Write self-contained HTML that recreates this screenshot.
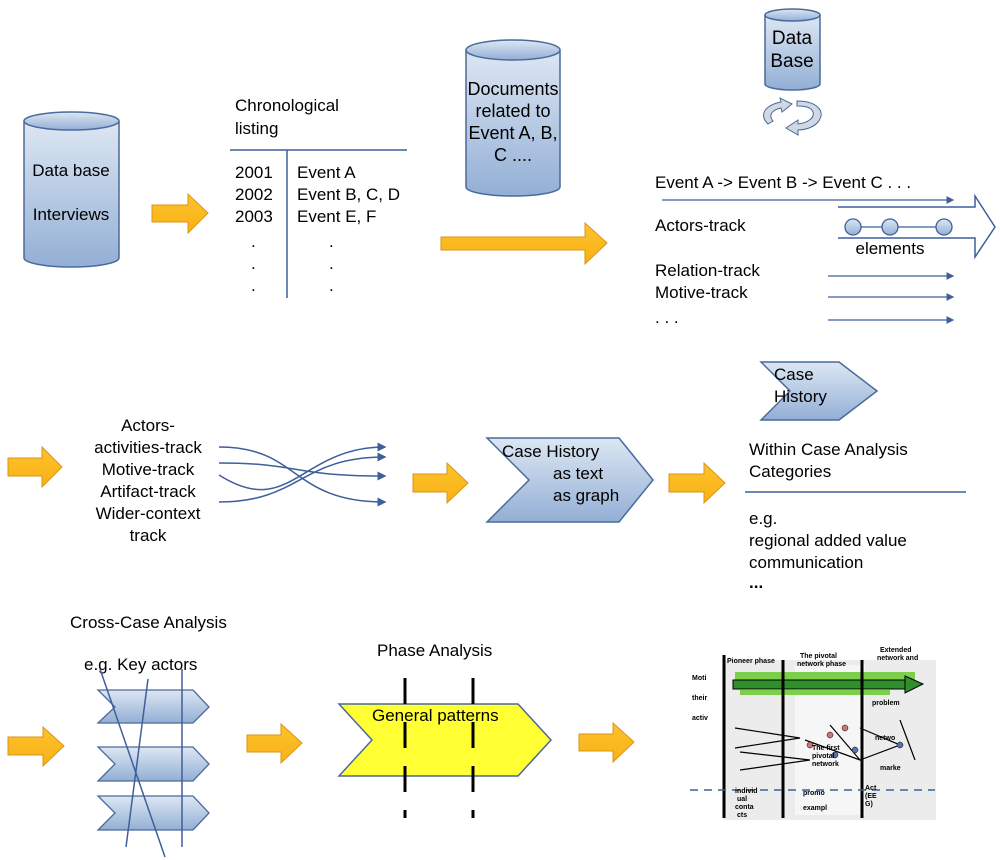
<!DOCTYPE html>
<html><head><meta charset="utf-8"><style>
body{margin:0;background:#fff}
svg{display:block}
text{font-family:"Liberation Sans",sans-serif;font-size:17px;fill:#000}
.s text{font-size:7px;font-weight:bold}
</style></head><body>
<svg width="1000" height="860" viewBox="0 0 1000 860">
<defs>
<linearGradient id="cy" x1="0" y1="0" x2="0" y2="1"><stop offset="0" stop-color="#dde7f3"/><stop offset="1" stop-color="#93afd5"/></linearGradient>
<linearGradient id="or" x1="0" y1="0" x2="0" y2="1"><stop offset="0" stop-color="#fdc22c"/><stop offset="1" stop-color="#f9b116"/></linearGradient>
<marker id="ah" markerWidth="6" markerHeight="6" refX="5" refY="3" orient="auto"><path d="M0,0 L6,3 L0,6 z" fill="#3f5f9b"/></marker>
</defs>
<g fill="url(#or)" stroke="#d9951a" stroke-width="1">
<path d="M152,205 H188 V194 L208,213 L188,233 V222 H152 Z"/>
<path d="M441,237 H585 V223 L607,243 L585,264 V250 H441 Z"/>
<path d="M8,458 H42 V447 L62,467 L42,487 V476 H8 Z"/>
<path d="M413,474 H447 V463 L468,483 L447,503 V492 H413 Z"/>
<path d="M669,474 H704 V463 L725,483 L704,503 V492 H669 Z"/>
<path d="M8,737 H43 V727 L64,746 L43,766 V755 H8 Z"/>
<path d="M247,735 H281 V724 L302,743 L281,763 V752 H247 Z"/>
<path d="M579,734 H613 V723 L634,742 L613,762 V751 H579 Z"/>
</g>
<g stroke="#4a6a9a" stroke-width="1.5" fill="url(#cy)">
<path d="M24,121 V258 A47.5,9 0 0 0 119,258 V121"/>
<ellipse cx="71.5" cy="121" rx="47.5" ry="9"/>
<path d="M466,50 V187 A47,9 0 0 0 560,187 V50"/>
<ellipse cx="513" cy="50" rx="47" ry="10"/>
<path d="M765,15 V84 A27.5,6 0 0 0 820,84 V15"/>
<ellipse cx="792.5" cy="15" rx="27.5" ry="6"/>
</g>
<text x="71" y="176" text-anchor="middle">Data base</text>
<text x="71" y="220" text-anchor="middle">Interviews</text>
<text x="513" y="95" text-anchor="middle" style="font-size:18px">Documents</text>
<text x="513" y="117" text-anchor="middle" style="font-size:18px">related to</text>
<text x="513" y="139" text-anchor="middle" style="font-size:18px">Event A, B,</text>
<text x="513" y="161" text-anchor="middle" style="font-size:18px">C ....</text>
<text x="792" y="44" text-anchor="middle" style="font-size:19px">Data</text>
<text x="792" y="67" text-anchor="middle" style="font-size:19px">Base</text>
<g fill="#d0d8e2" stroke="#4a6a9a" stroke-width="1">
<path d="M768,124 C758,114 766,105 781,102 L780,98 L792,104 L782,112 L781,108 C772,110 768,115 773,121 Z"/>
<path d="M797,101 C816,101 827,111 818,122 C813,128 804,130 798,130 L798,135 L786,128 L798,120 L798,124 C807,123 815,118 813,112 C811,107 805,106 797,106 Z"/>
</g>
<text x="235" y="111">Chronological</text>
<text x="235" y="134">listing</text>
<line x1="230" y1="150" x2="407" y2="150" stroke="#3f5f9b" stroke-width="1.5"/>
<line x1="287" y1="150" x2="287" y2="298" stroke="#3f5f9b" stroke-width="1.5"/>
<text x="235" y="178">2001</text><text x="297" y="178">Event A</text>
<text x="235" y="200">2002</text><text x="297" y="200">Event B, C, D</text>
<text x="235" y="222">2003</text><text x="297" y="222">Event E, F</text>
<text x="251" y="247">.</text><text x="251" y="269">.</text><text x="251" y="291">.</text>
<text x="329" y="247">.</text><text x="329" y="269">.</text><text x="329" y="291">.</text>
<text x="655" y="188">Event A -&gt; Event B -&gt; Event C . . .</text>
<line x1="662" y1="200" x2="953" y2="200" stroke="#3f5f9b" stroke-width="1.3" marker-end="url(#ah)"/>
<text x="655" y="231">Actors-track</text>
<path d="M838,207 H975 V196 L995,227 L975,257 V238 H838" fill="none" stroke="#3f5f9b" stroke-width="1.5"/>
<line x1="853" y1="227" x2="945" y2="227" stroke="#3f5f9b" stroke-width="1.3"/>
<g fill="url(#cy)" stroke="#3f5f9b" stroke-width="1.3"><circle cx="853" cy="227" r="8"/><circle cx="890" cy="227" r="8"/><circle cx="944" cy="227" r="8"/></g>
<text x="890" y="254" text-anchor="middle">elements</text>
<text x="655" y="276">Relation-track</text>
<text x="655" y="298">Motive-track</text>
<text x="655" y="323">. . .</text>
<g stroke="#3f5f9b" stroke-width="1.3" marker-end="url(#ah)">
<line x1="828" y1="276" x2="953" y2="276"/><line x1="828" y1="297" x2="953" y2="297"/><line x1="828" y1="320" x2="953" y2="320"/>
</g>
<g text-anchor="middle">
<text x="148" y="431">Actors-</text><text x="148" y="453">activities-track</text><text x="148" y="475">Motive-track</text>
<text x="148" y="497">Artifact-track</text><text x="148" y="519">Wider-context</text><text x="148" y="541">track</text>
</g>
<g fill="none" stroke="#3f5f9b" stroke-width="1.5" marker-end="url(#ah)">
<path d="M219,447 C300,447 290,502 385,502"/>
<path d="M219,463 C300,463 290,476 385,476"/>
<path d="M219,475 C290,520 300,447 385,447"/>
<path d="M219,502 C300,502 300,457 385,457"/>
</g>
<path d="M487,438 H619 L653,480 L619,522 H487 L529,480 Z" fill="url(#cy)" stroke="#4a6a9a" stroke-width="1.5"/>
<text x="502" y="457">Case History</text>
<text x="553" y="479">as text</text>
<text x="553" y="501">as graph</text>
<path d="M761,362 H839 L877,391 L839,420 H761 L790,391 Z" fill="url(#cy)" stroke="#4a6a9a" stroke-width="1.5"/>
<text x="774" y="380">Case</text>
<text x="774" y="402">History</text>
<text x="749" y="455">Within Case Analysis</text>
<text x="749" y="477">Categories</text>
<line x1="745" y1="492" x2="966" y2="492" stroke="#3f5f9b" stroke-width="1.5"/>
<text x="749" y="524">e.g.</text>
<text x="749" y="546">regional added value</text>
<text x="749" y="568">communication</text>
<text x="749" y="588" font-weight="bold">...</text>
<text x="70" y="628">Cross-Case Analysis</text>
<text x="84" y="670">e.g. Key actors</text>
<g fill="url(#cy)" stroke="#4a6a9a" stroke-width="1.3">
<path d="M98,690 H193 L209,707 L193,723 H98 L115,707 Z"/>
<path d="M98,747 H193 L209,764 L193,781 H98 L115,764 Z"/>
<path d="M98,796 H193 L209,813 L193,830 H98 L115,813 Z"/>
</g>
<g stroke="#3f5f9b" stroke-width="1.5">
<line x1="100" y1="669" x2="165" y2="857"/>
<line x1="148" y1="679" x2="126" y2="847"/>
<line x1="182" y1="669" x2="182" y2="847"/>
</g>
<text x="377" y="656">Phase Analysis</text>
<path d="M339,704 H518 L551,740 L518,776 H339 L372,740 Z" fill="#ffff33" stroke="#4a6a9a" stroke-width="1.5"/>
<text x="372" y="721">General patterns</text>
<g stroke="#000" stroke-width="3" stroke-dasharray="26,18">
<line x1="405" y1="678" x2="405" y2="818"/>
<line x1="473" y1="678" x2="473" y2="818"/>
</g>
<rect x="724" y="660" width="212" height="160" fill="#ececec"/>
<rect x="795" y="665" width="70" height="150" fill="#f6f6f6"/>
<rect x="735" y="672" width="180" height="10" fill="#7ccf4a"/>
<rect x="733" y="680" width="180" height="9" fill="#2f8f2a" stroke="#000" stroke-width="1"/>
<path d="M905,676 L923,684 L905,693 Z" fill="#2f8f2a" stroke="#000"/>
<rect x="740" y="690" width="150" height="5" fill="#7ccf4a"/>
<g stroke="#000" stroke-width="3">
<line x1="724" y1="655" x2="724" y2="818"/><line x1="783" y1="660" x2="783" y2="818"/><line x1="862" y1="660" x2="862" y2="818"/>
</g>
<g stroke="#000" stroke-width="1.2" fill="none">
<path d="M735,728 L800,738 L735,748 M740,752 L810,760 L740,770 M805,740 L860,760 L830,725 M860,728 L900,745 L860,760 M900,720 L915,760"/>
</g>
<g fill="#c77" stroke="#000" stroke-width="0.5"><circle cx="830" cy="735" r="3"/><circle cx="845" cy="728" r="3"/><circle cx="810" cy="745" r="3"/></g>
<g fill="#57a" stroke="#000" stroke-width="0.5"><circle cx="835" cy="755" r="3"/><circle cx="855" cy="750" r="3"/><circle cx="900" cy="745" r="3"/></g>
<line x1="690" y1="790" x2="935" y2="790" stroke="#3f5f9b" stroke-width="1.5" stroke-dasharray="8,6"/>
<g class="s">
<text x="727" y="663">Pioneer phase</text>
<text x="800" y="658">The pivotal</text><text x="797" y="666">network phase</text>
<text x="880" y="652">Extended</text><text x="877" y="660">network and</text>
<text x="692" y="680">Moti</text><text x="692" y="700">their</text><text x="692" y="720">activ</text>
<text x="812" y="750">The first</text><text x="812" y="758">pivotal</text><text x="812" y="766">network</text>
<text x="735" y="793">individ</text><text x="737" y="801">ual</text><text x="735" y="809">conta</text><text x="737" y="817">cts</text>
<text x="803" y="795">promo</text><text x="803" y="810">exampl</text>
<text x="865" y="790">Act</text><text x="865" y="798">(EE</text><text x="865" y="806">G)</text>
<text x="872" y="705">problem</text><text x="875" y="740">netwo</text><text x="880" y="770">marke</text>
</g>
</svg>
</body></html>
